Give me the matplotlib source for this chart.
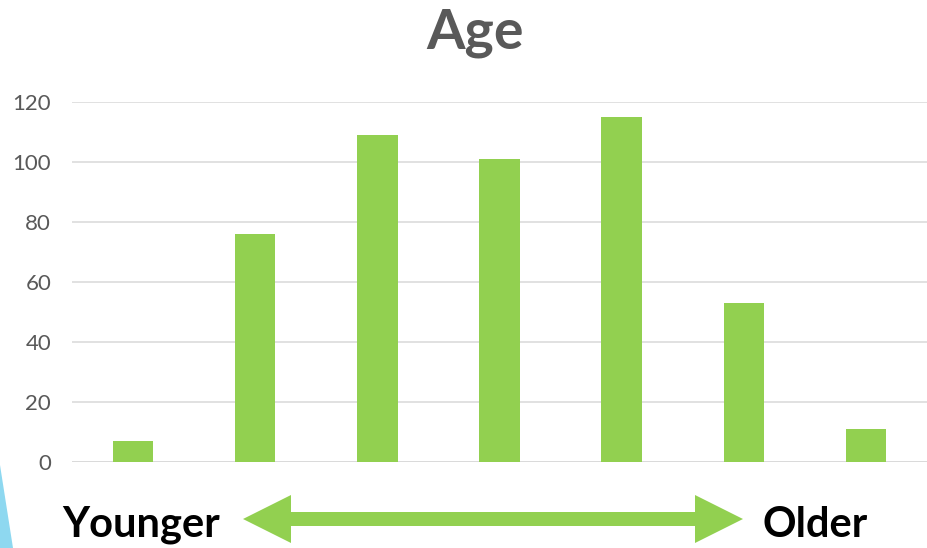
import numpy as np
import matplotlib
matplotlib.use("Agg")
import matplotlib.pyplot as plt
from matplotlib.patches import Polygon

# data
groups = ["1", "2", "3", "4", "5", "6", "7"]
counts = [7, 76, 109, 101, 115, 53, 11]
yticks = [0, 20, 40, 60, 80, 100, 120]

green = "#92D050"
grey = "#595959"
gridc = "#D9D9D9"

plt.rcParams["font.family"] = ["Lato", "DejaVu Sans"]

fig = plt.figure(figsize=(9.28, 5.48), dpi=100)
W, H = 928, 548

# main axes, placed in pixel terms
left, right, top, bottom = 72, 927, 101.7, 461.7
ax = fig.add_axes([left / W, 1 - bottom / H, (right - left) / W, (bottom - top) / H])

x = np.arange(len(groups))
ax.bar(x, counts, width=0.33, color=green, zorder=3)
ax.set_xlim(-0.5, len(groups) - 0.5)
ax.set_ylim(0, 120)
ax.set_yticks(yticks)
ax.set_yticklabels([str(v) for v in yticks], fontsize=16, color=grey)
ax.set_xticks([])
ax.tick_params(axis="y", length=0, pad=15)
ax.grid(axis="y", color=gridc, linewidth=1.1, zorder=0)
for s in ax.spines.values():
    s.set_visible(False)
ax.axhline(0, color=gridc, linewidth=1.1, zorder=2)

# overlay in pixel coordinates for title, arrow and labels
ov = fig.add_axes([0, 0, 1, 1], zorder=5)
ov.set_xlim(0, W)
ov.set_ylim(H, 0)
ov.axis("off")
ov.patch.set_alpha(0)

ov.text(475, 48, "Age", fontsize=40, fontweight="bold", color=grey,
        ha="center", va="baseline")

# double headed arrow
lt, rt, yc = 243, 743, 519
hl, hh, sh = 48, 24, 7
pts = [(lt, yc), (lt + hl, yc - hh), (lt + hl, yc - sh), (rt - hl, yc - sh),
       (rt - hl, yc - hh), (rt, yc), (rt - hl, yc + hh), (rt - hl, yc + sh),
       (lt + hl, yc + sh), (lt + hl, yc + hh)]
ov.add_patch(Polygon(pts, closed=True, color=green, lw=0))

ov.text(62, 537, "Younger", fontsize=30, fontweight="bold", color="black",
        ha="left", va="baseline")
ov.text(763, 537, "Older", fontsize=30, fontweight="bold", color="black",
        ha="left", va="baseline")

# light blue wedge in the bottom-left corner
ov.add_patch(Polygon([(0, 465), (13, 548), (0, 548)], closed=True,
                     color="#8ED8F0", lw=0))

fig.savefig("out.png", dpi=100)
